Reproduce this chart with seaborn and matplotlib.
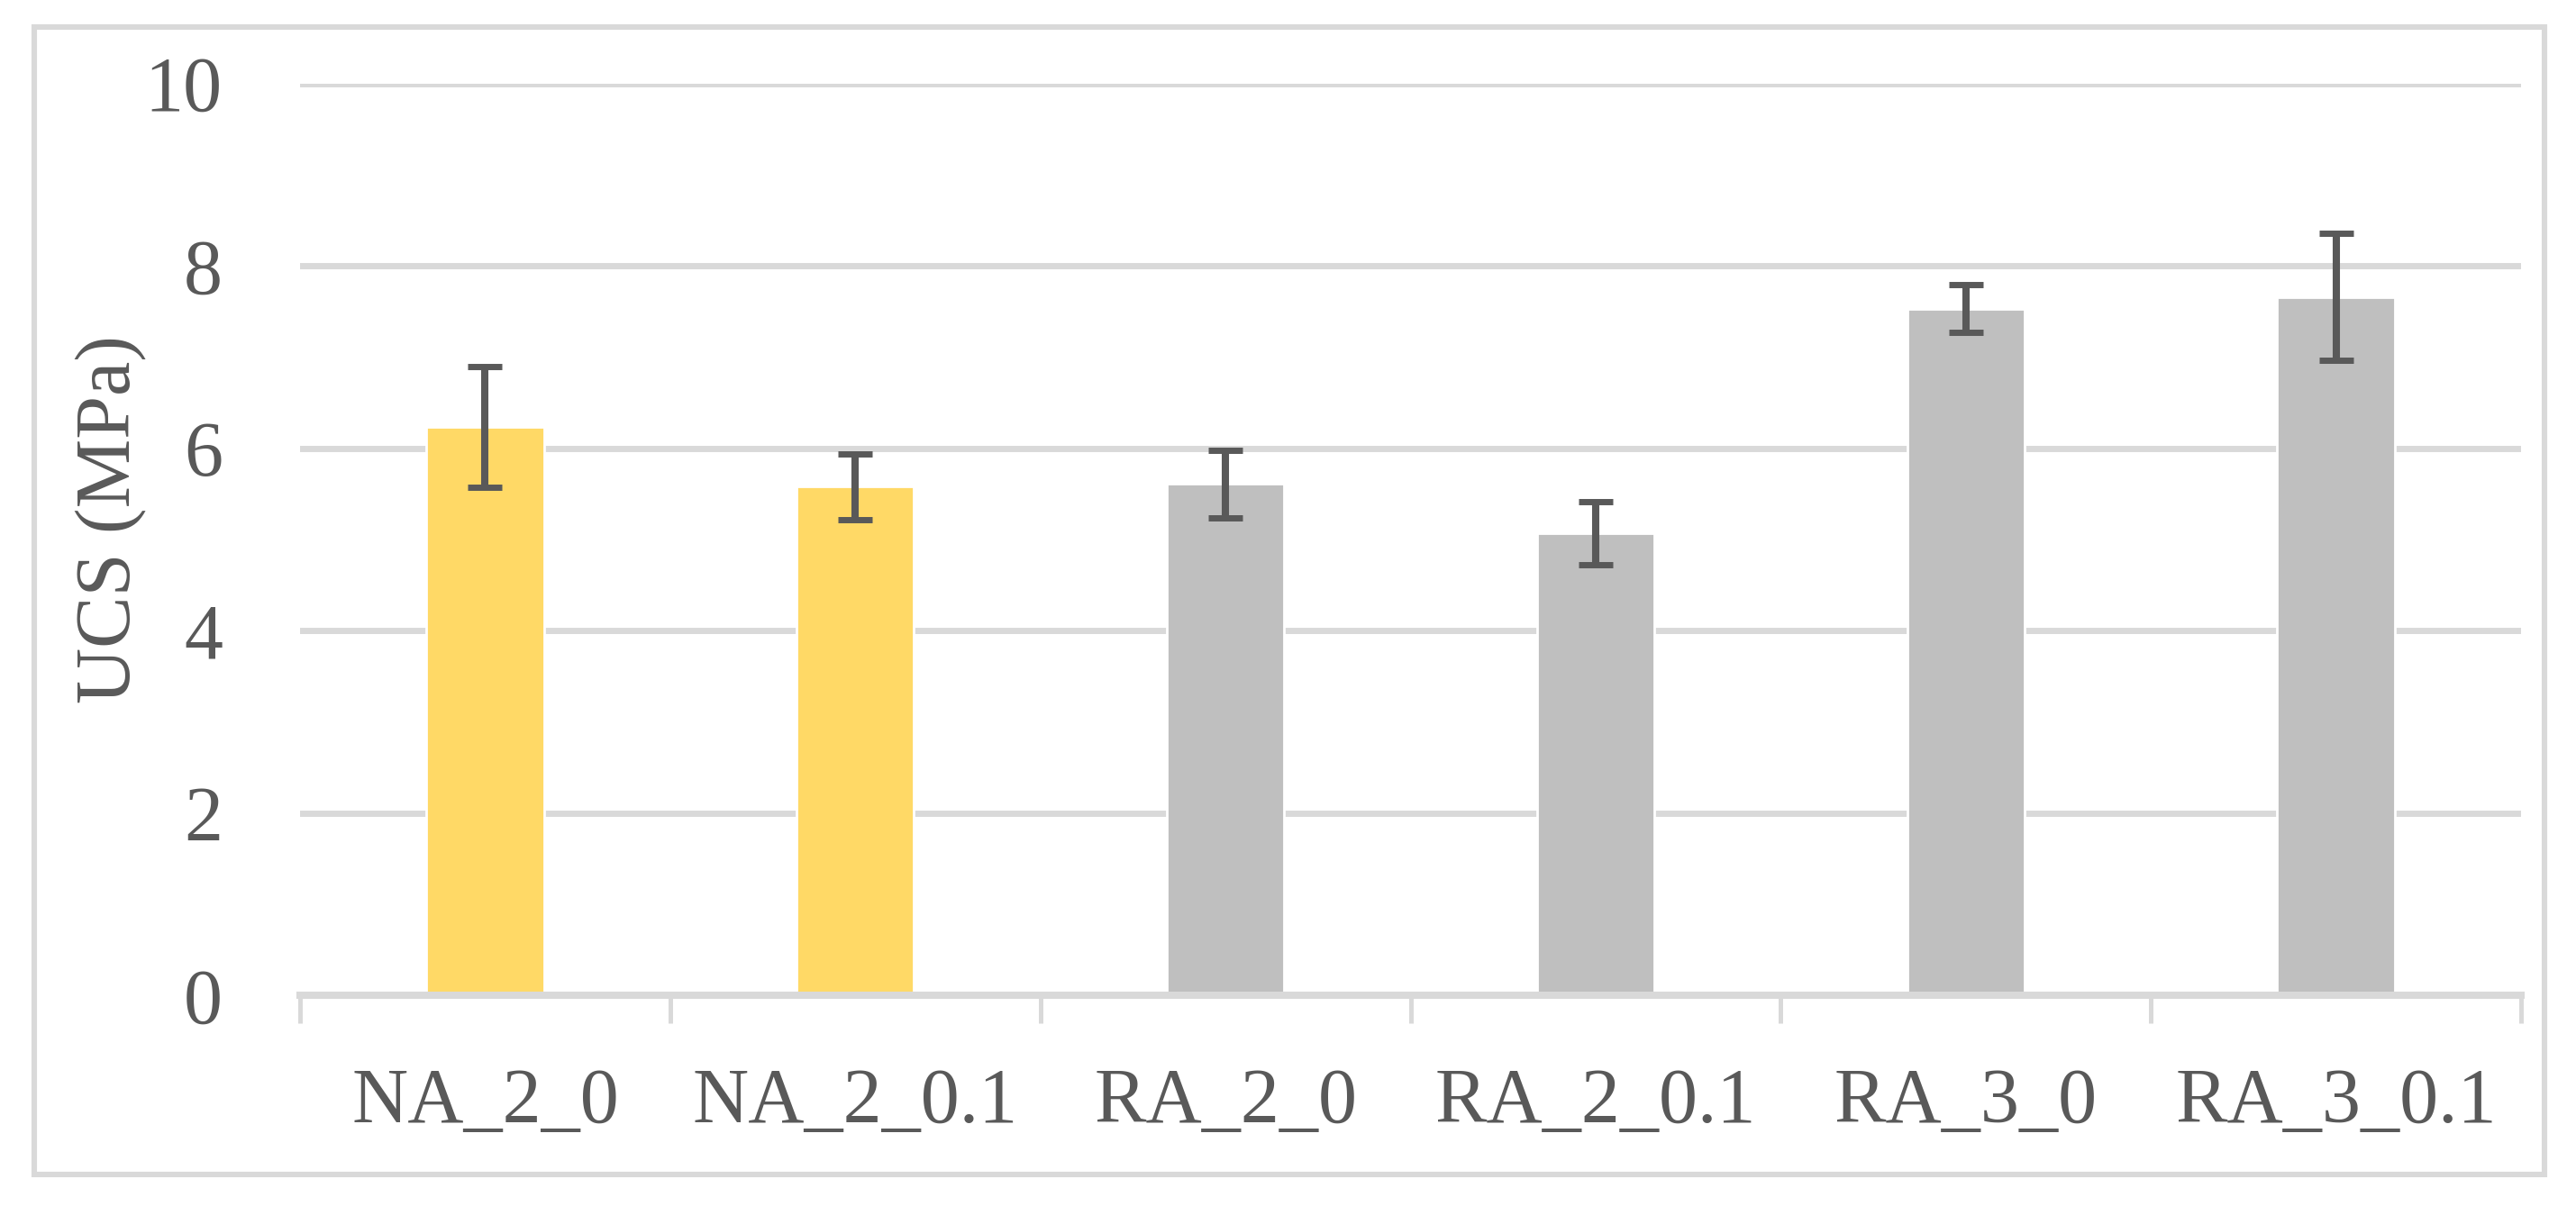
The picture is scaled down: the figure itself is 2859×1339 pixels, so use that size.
import matplotlib
matplotlib.use("Agg")
import matplotlib.pyplot as plt
from matplotlib.patches import Rectangle
from matplotlib.ticker import FixedLocator
import seaborn as sns
import pandas as pd

categories = ["NA_2_0", "NA_2_0.1", "RA_2_0", "RA_2_0.1", "RA_3_0", "RA_3_0.1"]
ucs_values = [6.23, 5.58, 5.61, 5.07, 7.53, 7.66]
ucs_errors = [0.66, 0.36, 0.37, 0.345, 0.26, 0.70]
bar_colors = ["#FFD966", "#FFD966", "#BFBFBF", "#BFBFBF", "#BFBFBF", "#BFBFBF"]
y_ticks = [0, 2, 4, 6, 8, 10]

sns.set_theme(style="white")
plt.rcParams["font.family"] = ["Liberation Serif", "DejaVu Serif"]

TEXT = "#595959"
GRID = "#D9D9D9"

df = pd.DataFrame({"cat": categories, "ucs": ucs_values})

fig = plt.figure(figsize=(2859 / 200, 1339 / 200), dpi=200)
ax = fig.add_axes([333 / 2859, (1339 - 1105) / 1339, (2798 - 333) / 2859, (1105 - 92.6) / 1339])

sns.barplot(data=df, x="cat", y="ucs", hue="cat", palette=bar_colors, width=0.317,
            legend=False, ax=ax, errorbar=None, saturation=1, zorder=2)
ax.errorbar(categories, ucs_values, yerr=ucs_errors, fmt="none", ecolor=TEXT,
            elinewidth=2.9, capsize=6.8, capthick=2.5, zorder=3)

ax.set_ylim(0, 10)
ax.set_xlim(-0.5, 5.5)
ax.set_yticks(y_ticks)
ax.set_yticklabels([str(t) for t in y_ticks])
ax.yaxis.grid(True, color=GRID, linewidth=2.5)
ax.xaxis.grid(False)
ax.set_axisbelow(True)

for s in ["top", "right", "left"]:
    ax.spines[s].set_visible(False)
ax.spines["bottom"].set_color(GRID)
ax.spines["bottom"].set_linewidth(2.9)
ax.spines["bottom"].set_zorder(4)

ax.xaxis.set_minor_locator(FixedLocator([i - 0.5 for i in range(len(categories) + 1)]))
ax.tick_params(axis="x", which="minor", length=11, width=1.8, color=GRID, bottom=True)
ax.tick_params(axis="x", which="major", length=0, pad=29, labelsize=31, labelcolor=TEXT)
ax.tick_params(axis="y", which="major", length=0, pad=31, labelsize=31, labelcolor=TEXT)

ax.set_xlabel("")
ax.set_ylabel("UCS (MPa)", fontsize=31, color=TEXT)
ax.yaxis.set_label_coords(-0.069, 0.522)

fig.patches.append(Rectangle((38 / 2859, (1339 - 1304) / 1339),
                             (2824 - 38) / 2859, (1304 - 30) / 1339,
                             transform=fig.transFigure, fill=False,
                             edgecolor=GRID, linewidth=2.2, zorder=0))

fig.savefig("out.png", dpi=200, facecolor="white")
